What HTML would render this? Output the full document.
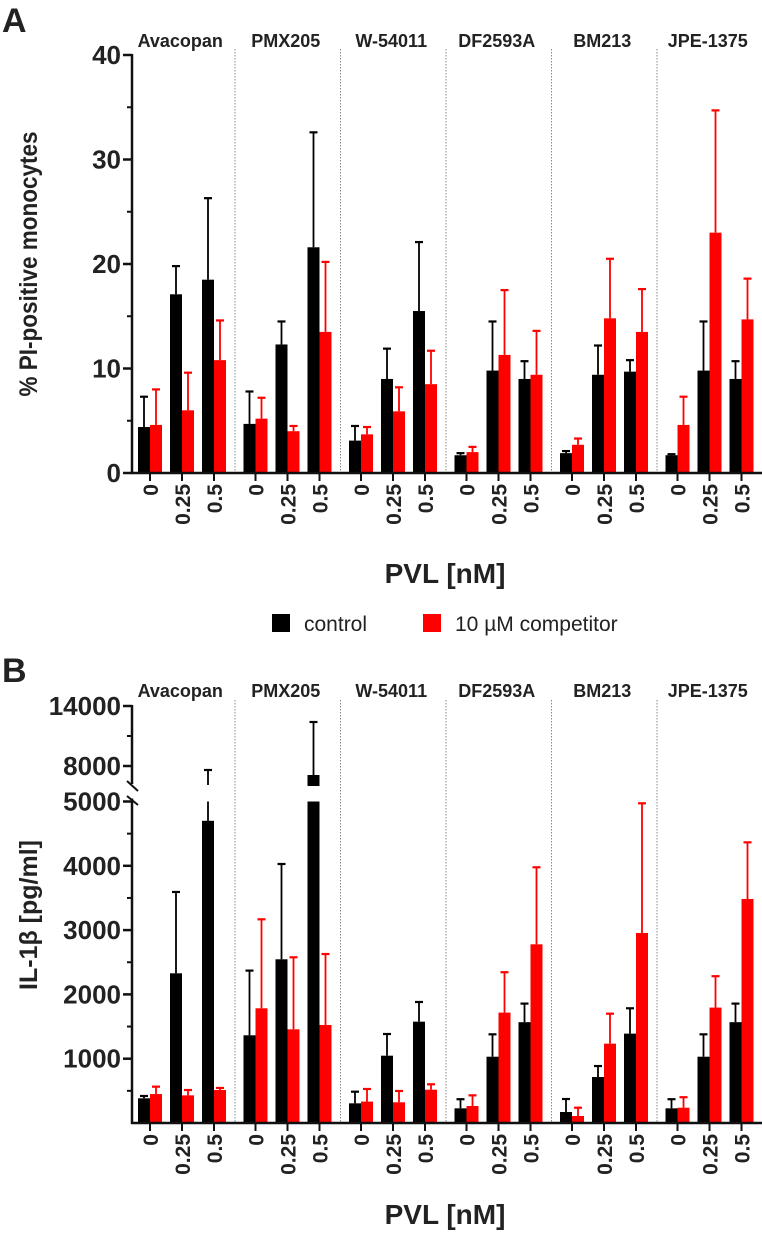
<!DOCTYPE html>
<html><head><meta charset="utf-8"><style>
html,body{margin:0;padding:0;background:#fff;}
svg{display:block;font-family:"Liberation Sans",Arial,sans-serif;}
</style></head><body>
<svg id="fig" width="762" height="1237" viewBox="0 0 762 1237" xmlns="http://www.w3.org/2000/svg">
<text x="2" y="32" font-size="34" font-weight="bold" fill="#222">A</text>
<text x="2" y="682" font-size="34" font-weight="bold" fill="#222">B</text>
<text transform="translate(37,264) rotate(-90)" text-anchor="middle" font-size="25" font-weight="bold" fill="#222" textLength="265" lengthAdjust="spacingAndGlyphs">% PI-positive monocytes</text>
<text transform="translate(37,915) rotate(-90)" text-anchor="middle" font-size="25" font-weight="bold" fill="#222">IL-1β [pg/ml]</text>
<text x="445" y="583" text-anchor="middle" font-size="28" font-weight="bold" fill="#222">PVL [nM]</text>
<text x="445" y="1224" text-anchor="middle" font-size="28" font-weight="bold" fill="#222">PVL [nM]</text>
<g>
<rect x="272" y="614" width="18" height="18" fill="#000"/>
<text x="304" y="631" font-size="21" fill="#222">control</text>
<rect x="423" y="614" width="18" height="18" fill="#f00"/>
<text x="455" y="631" font-size="21" fill="#222">10 µM competitor</text>
</g>
<g id="gA"></g>
<g id="gB"></g>
</svg>
<script>
const groups = ["Avacopan","PMX205","W-54011","DF2593A","BM213","JPE-1375"];
const doses = ["0","0.25","0.5"];
// Panel A (% PI-positive monocytes), per group: [dose0, dose0.25, dose0.5]
const aControl = [[4.4,17.1,18.5],[4.7,12.3,21.6],[3.1,9.0,15.5],[1.7,9.8,9.0],[1.9,9.4,9.7],[1.7,9.8,9.0]];
const aControlErr = [[7.3,19.8,26.3],[7.8,14.5,32.6],[4.5,11.9,22.1],[1.9,14.5,10.7],[2.1,12.2,10.8],[1.8,14.5,10.7]];
const aComp = [[4.6,6.0,10.8],[5.2,4.0,13.5],[3.7,5.9,8.5],[2.0,11.3,9.4],[2.7,14.8,13.5],[4.6,23.0,14.7]];
const aCompErr = [[8.0,9.6,14.6],[7.2,4.5,20.2],[4.4,8.2,11.7],[2.5,17.5,13.6],[3.3,20.5,17.6],[7.3,34.7,18.6]];
const aTicks = [0,10,20,30,40];
// Panel B (IL-1β pg/ml)
const bControl = [[384,2328,4700],[1364,2546,7100],[306,1047,1576],[228,1031,1568],[171,715,1390],[228,1031,1568]];
const bControlErr = [[420,3593,7600],[2370,4028,12400],[487,1384,1882],[370,1379,1857],[373,886,1784],[370,1379,1857]];
const bComp = [[450,430,513],[1784,1457,1524],[333,322,518],[264,1717,2779],[109,1234,2955],[238,1795,3484]];
const bCompErr = [[565,513,545],[3168,2577,2628],[529,498,602],[430,2345,3977],[238,1700,4972],[401,2283,4365]];
const bTicksLow = [1000,2000,3000,4000,5000];
const bTicksHigh = [8000,14000];

const NS="http://www.w3.org/2000/svg";
function mk(parent,tag,attrs){const e=document.createElementNS(NS,tag);for(const k in attrs)e.setAttribute(k,attrs[k]);parent.appendChild(e);return e;}
const X0=129.5, GW=105.5, AX=132;
function pairX(g,d){return X0+g*GW+20.5+d*32;}

function drawPanel(root,yAxisTop,base,yf,split,ctrl,ctrlE,comp,compE,labelY,prefix){
  for(let g=1;g<groups.length;g++){
    const sx=X0+g*GW;
    const s=mk(root,'line',{x1:sx,x2:sx,y1:yAxisTop-6,y2:base,stroke:'#888','stroke-width':1,'stroke-dasharray':'1.5,1.5'});
    
    
  }
  groups.forEach((name,g)=>{
    const t=mk(root,'text',{x:X0+g*GW+GW/2-2,y:labelY,'text-anchor':'middle','font-size':18,'font-weight':'bold',fill:'#222'});
    t.textContent=name;
    
    
    doses.forEach((d,i)=>{
      const cx=pairX(g,i);
      [[ctrl,ctrlE,'#000',cx-12,'control'],[comp,compE,'#f00',cx,'competitor']].forEach(([vals,errs,col,x,ser])=>{
        const v=vals[g][i], e=errs[g][i];
        const ex=x+6;
        if(split && v>split.lowMax){
          const r1=mk(root,'rect',{x:x,y:yf(split.lowMax),width:12,height:base-yf(split.lowMax),fill:col});
          
          
          const r2=mk(root,'rect',{x:x,y:yf(v),width:12,height:split.highBottomY-yf(v),fill:col});
          
          
        } else {
          const r=mk(root,'rect',{x:x,y:yf(v),width:12,height:base-yf(v),fill:col});
          
          
        }
        const ec=col;
        if(split && e>split.lowMax && v<=split.lowMax){
          mk(root,'line',{x1:ex,x2:ex,y1:yf(v),y2:yf(split.lowMax),stroke:ec,'stroke-width':1.8});
          const l=mk(root,'line',{x1:ex,x2:ex,y1:split.highBottomY-1,y2:yf(e),stroke:ec,'stroke-width':1.8});
          
          
        } else {
          const l=mk(root,'line',{x1:ex,x2:ex,y1:yf(v),y2:yf(e),stroke:ec,'stroke-width':1.8});
          
          
        }
        mk(root,'line',{x1:ex-4,x2:ex+4,y1:yf(e),y2:yf(e),stroke:ec,'stroke-width':2.2});
      });
      mk(root,'line',{x1:cx,x2:cx,y1:base,y2:base+8,stroke:'#111','stroke-width':2});
      const tl=mk(root,'text',{transform:`translate(${cx+8},${base+11}) rotate(-90)`,'text-anchor':'end','font-size':21,'font-weight':'bold',fill:'#222'});
      tl.textContent=d;
      
      
    });
  });
  const xa=mk(root,'line',{x1:AX-1,x2:762,y1:base,y2:base,stroke:'#111','stroke-width':2.5});
  
  
}

// Panel A
const gA=document.getElementById('gA');
const yA=v=>473-v*10.45;
drawPanel(gA,55,473,yA,null,aControl,aControlErr,aComp,aCompErr,47,'a');
{
  const ya=mk(gA,'line',{x1:AX,x2:AX,y1:54,y2:474,stroke:'#111','stroke-width':2.5});
  
  
  aTicks.forEach(t=>{
    mk(gA,'line',{x1:AX-9,x2:AX,y1:yA(t),y2:yA(t),stroke:'#111','stroke-width':2.5});
    if(t<40) mk(gA,'line',{x1:AX-5,x2:AX,y1:yA(t+5),y2:yA(t+5),stroke:'#111','stroke-width':2});
    const tx=mk(gA,'text',{x:AX-11,y:yA(t)+9,'text-anchor':'end','font-size':26,'font-weight':'bold',fill:'#222'});
    tx.textContent=t;
    
    
  });
}

// Panel B
const gB=document.getElementById('gB');
const BASE=1123;
const yB=v=> v<=5000 ? BASE - v*0.0643 : 786 - (v-6000)*0.01;
drawPanel(gB,706,BASE,yB,{lowMax:5000,highBottomY:786},bControl,bControlErr,bComp,bCompErr,697,'b');
{
  const y1=mk(gB,'line',{x1:AX,x2:AX,y1:yB(5000)-3,y2:BASE+1,stroke:'#111','stroke-width':2.5});
  
  
  const y2=mk(gB,'line',{x1:AX,x2:AX,y1:705,y2:784,stroke:'#111','stroke-width':2.5});
  
  
  mk(gB,'line',{x1:127,x2:138,y1:781,y2:791,stroke:'#111','stroke-width':2});
  mk(gB,'line',{x1:127,x2:138,y1:796,y2:805,stroke:'#111','stroke-width':2});
  bTicksLow.forEach(t=>{
    mk(gB,'line',{x1:AX-9,x2:AX,y1:yB(t),y2:yB(t),stroke:'#111','stroke-width':2.5});
    mk(gB,'line',{x1:AX-5,x2:AX,y1:yB(t-500),y2:yB(t-500),stroke:'#111','stroke-width':2});
    const tx=mk(gB,'text',{x:AX-11,y:yB(t)+9,'text-anchor':'end','font-size':26,'font-weight':'bold',fill:'#222'});
    tx.textContent=t;
    
    
  });
  mk(gB,'line',{x1:AX-5,x2:AX,y1:yB(11000),y2:yB(11000),stroke:'#111','stroke-width':2});
  bTicksHigh.forEach(t=>{
    mk(gB,'line',{x1:AX-9,x2:AX,y1:yB(t),y2:yB(t),stroke:'#111','stroke-width':2.5});
    const tx=mk(gB,'text',{x:AX-11,y:yB(t)+9,'text-anchor':'end','font-size':26,'font-weight':'bold',fill:'#222'});
    tx.textContent=t;
    
    
  });
}
</script>
</body></html>
